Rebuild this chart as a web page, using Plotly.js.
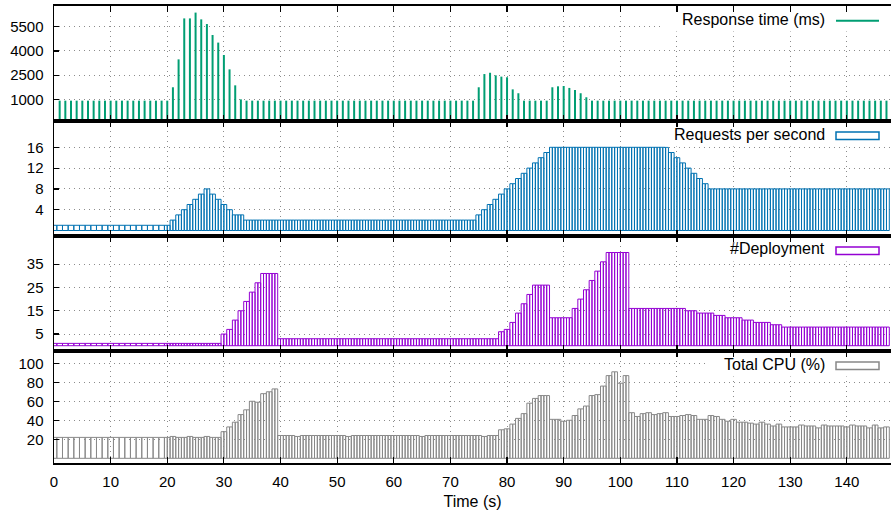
<!DOCTYPE html>
<html><head><meta charset="utf-8">
<script src="https://cdn.plot.ly/plotly-3.0.1.min.js"></script>
<style>html,body{margin:0;padding:0;background:#fff}</style>
</head><body>
<div id="chart" style="width:891px;height:515px"></div>
<script>
// ---------------- data ----------------
// Response time (ms), one impulse per second, t = 1..147
const responseTime = [
  920,920,920,920,920,920,920,920,920,920,
  920,920,920,920,920,920,920,920,920,920,
  1750,3480,6020,6020,6380,5960,5670,4990,4520,3750,2860,1870,
  1000,
  920,920,920,920,920,920,920,920,920,920,
  920,920,920,920,920,920,920,920,920,920,
  920,920,920,920,920,920,920,920,920,920,
  920,920,920,920,920,920,920,920,920,920,
  920,
  1750,2570,2650,2490,2410,2370,1620,1380,
  920,920,920,920,920,
  1750,1810,1830,1710,1580,1380,1130,
  920,920,920,920,920,920,920,920,920,920,
  920,920,920,920,920,920,920,920,920,920,
  920,920,920,920,920,920,920,920,920,920,
  920,920,920,920,920,920,920,920,920,920,
  920,920,920,920,920,920,920,920,920,920,
  920,920,920
];
// Requests per second, t = 0..147
const requestsPerSecond = [
  1,1,1,1,1,1,1,1,1,1, 1,1,1,1,1,1,1,1,1,1, 1,
  2,3,4,5,6,7,8,7,6,5,4,3,3,
  2,2,2,2,2,2,2,2,2,2, 2,2,2,2,2,2,2,2,2,2, 2,2,2,2,2,2,2,2,2,2, 2,2,2,2,2,2,2,2,2,2, 2,
  3,4,5,6,7,8,9,10,11,12,13,14,15,
  16,16,16,16,16,16,16,16,16,16, 16,16,16,16,16,16,16,16,16,16, 16,
  15,14,13,12,11,10,9,
  8,8,8,8,8,8,8,8,8,8, 8,8,8,8,8,8,8,8,8,8, 8,8,8,8,8,8,8,8,8,8, 8,8
];
// #Deployment, t = 0..147
const deployments = [
  1,1,1,1,1,1,1,1,1,1, 1,1,1,1,1,1,1,1,1,1, 1,1,1,1,1,1,1,1,1,1,
  5,7,11,15,19,23,27,31,31,31,
  3,3,3,3,3,3,3,3,3,3, 3,3,3,3,3,3,3,3,3,3, 3,3,3,3,3,3,3,3,3,3, 3,3,3,3,3,3,3,3,3,
  6,7,10,14,18,22,26,26,26,
  12,12,12,12,
  16,20,24,28,32,36,
  40,40,40,40,
  16,16,16,16,16,16,16,16,16,16,
  15,15, 14,14,14, 13,13, 12,12,12, 11,11, 10,10,10, 9,9,
  8,8,8,8,8,8,8,8,8,8, 8,8,8,8,8,8,8,8,8
];
// Total CPU (%), t = 0..147
const totalCpu = [
  22,22,22,22,22,22,22,22,22,22, 22,22,22,22,22,22,22,22,22,22,
  22,23,22,22,23,22,22,23,22,22,
  28,33,38,46,51,60,59,68,70,73,
  24,24,24,23,24,24,24,24,24,24, 24,24,23,24,24,24,24,24,24,24,
  24,24,24,24,24,23,24,24,24,24, 24,24,24,24,24,24,23,24,24,
  30,31,36,42,47,58,63,66,66,41,41,39,40,45,52,55,66,67,76,87,91,79,87,
  48,44,47,48,46,47,48,44,44,45, 46,45,41,41,45,44,41,39,41,38,
  38,37,36,38,36,34,36,33,33,33, 35,34,34,32,35,34,34,34,33,35,
  34,34,32,35,32,33
];

const seriesNames = ['Response time (ms)', 'Requests per second', '#Deployment', 'Total CPU (%)'];
const seriesColors = ['#009E73', '#0072B2', '#9400D3', '#888888'];
const xTickVals = [0, 10, 20, 30, 40, 50, 60, 70, 80, 90, 100, 110, 120, 130, 140];
const yTickVals = [
  [1000, 2500, 4000, 5500],
  [4, 8, 12, 16],
  [5, 15, 25, 35],
  [20, 40, 60, 80, 100]
];
const xTitle = 'Time (s)';

// ---------------- layout geometry ----------------
const W = 891, H = 515;
const M = {l: 54, r: 0, t: 6, b: 52};
const panelEdges = [6, 121, 236, 351, 463];          // pixel rows of the panel borders
const yRanges = [[-341, 6789], [-1.06, 21.06], [-2.27, 47.08], [-4.95, 112.9]];
const xRange = [0, 147.8];
const splitSecond = 20;                                // samples become half-second boxes from here
const FONT = 'Liberation Sans, Arial, Helvetica, sans-serif';
const plotH = H - M.t - M.b, plotW = W - M.l - M.r;
const fy = p => (H - M.b - p) / plotH;
const fx = p => (p - M.l) / plotW;
const axId = i => (i === 0 ? '' : String(i + 1));

// ---------------- traces ----------------
const traces = [];
(function () {
  const x = [], y = [];
  responseTime.forEach((v, i) => {
    const t = i + 1;
    x.push(t, t, null);
    y.push(yRanges[0][0], v, null);
  });
  traces.push({type: 'scatter', mode: 'lines', x, y, xaxis: 'x', yaxis: 'y',
    line: {color: seriesColors[0], width: 2}, hoverinfo: 'skip', showlegend: false});
})();
function boxTrace(values, k) {
  const x = [], y = [], w = [];
  values.forEach((v, i) => {
    if (i < splitSecond) { x.push(i); y.push(v); w.push(1); }
    else { x.push(i - 0.25, i + 0.25); y.push(v, v); w.push(0.5, 0.5); }
  });
  return {type: 'bar', x, y, width: w, xaxis: 'x' + axId(k), yaxis: 'y' + axId(k),
    marker: {color: 'rgba(0,0,0,0)', line: {color: seriesColors[k], width: 1}},
    hoverinfo: 'skip', showlegend: false};
}
traces.push(boxTrace(requestsPerSecond, 1));
traces.push(boxTrace(deployments, 2));
traces.push(boxTrace(totalCpu, 3));

// ---------------- layout ----------------
const layout = {
  width: W, height: H, margin: M,
  paper_bgcolor: '#fff', plot_bgcolor: '#fff',
  font: {family: FONT, size: 15, color: '#000'},
  showlegend: false, barmode: 'overlay', bargap: 0,
  shapes: [], annotations: []
};
for (let i = 0; i < 4; i++) {
  const id = axId(i);
  const top = panelEdges[i], bot = panelEdges[i + 1];
  layout['xaxis' + id] = {
    domain: [0, 1], anchor: 'y' + id, range: xRange,
    tickmode: 'array', tickvals: xTickVals, showticklabels: i === 3,
    ticks: 'inside', ticklen: 6, tickwidth: 1.2, tickcolor: '#000',
    showline: true, linecolor: '#000', linewidth: 2, mirror: 'ticks',
    showgrid: true, gridcolor: '#8c8c8c', gridwidth: 1, griddash: '1px,4px',
    zeroline: false, tickfont: {size: 15}, ticklabelstandoff: 4
  };
  if (i === 3) layout['xaxis' + id].title = {text: xTitle, font: {size: 16}, standoff: 7};
  layout['yaxis' + id] = {
    domain: [fy(bot), fy(top)], anchor: 'x' + id, range: yRanges[i],
    tickmode: 'array', tickvals: yTickVals[i],
    ticks: 'inside', ticklen: 5, tickwidth: 1.2, tickcolor: '#000',
    showline: true, linecolor: '#000', linewidth: 1.5, mirror: false,
    showgrid: true, gridcolor: '#8c8c8c', gridwidth: 1, griddash: '1px,4px',
    zeroline: false, tickfont: {size: 15}, ticklabelstandoff: 6
  };
  // key: white background hiding the grid (kept below the top tick marks), text and sample
  const keyLeft = [660, 665, 720, 708][i];
  layout.shapes.push({type: 'rect', xref: 'paper', yref: 'paper', layer: 'above',
    x0: fx(keyLeft), x1: 1, y0: fy(top + 25.5), y1: fy(top + 6.5),
    fillcolor: '#ffffff', line: {width: 0}});
  layout.annotations.push({xref: 'paper', yref: 'paper', x: fx(827), y: fy(top + 13),
    xanchor: 'right', yanchor: 'middle', showarrow: false, text: seriesNames[i],
    font: {size: 16, color: '#000'}});
  if (i === 0) {
    layout.shapes.push({type: 'line', xref: 'paper', yref: 'paper', layer: 'above',
      x0: fx(836), x1: fx(879), y0: fy(top + 14.7), y1: fy(top + 14.7),
      line: {color: seriesColors[0], width: 2}});
  } else {
    layout.shapes.push({type: 'rect', xref: 'paper', yref: 'paper', layer: 'above',
      x0: fx(836), x1: fx(879), y0: fy(top + 18.5), y1: fy(top + 11),
      fillcolor: '#ffffff', line: {color: seriesColors[i], width: 1.5}});
  }
}
Plotly.newPlot('chart', traces, layout, {displayModeBar: false, staticPlot: true});
</script>
</body></html>
